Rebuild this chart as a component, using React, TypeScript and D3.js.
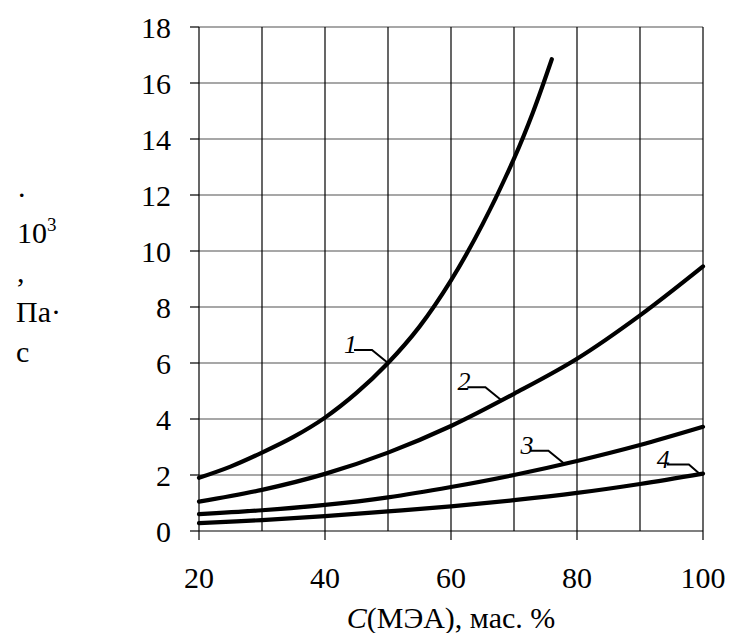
import React from "react";
import * as d3 from "d3";

const conc1 = [20, 25, 30, 35, 40, 45, 50, 55, 60, 65, 70, 73, 76];
const visc1 = [1.9, 2.3, 2.8, 3.36, 4.05, 4.93, 6.0, 7.3, 8.95, 10.95, 13.3, 14.95, 16.85];
const conc = [20, 30, 40, 50, 60, 70, 80, 90, 100];
const visc2 = [1.05, 1.47, 2.04, 2.8, 3.75, 4.9, 6.15, 7.7, 9.45];
const visc3 = [0.6, 0.74, 0.93, 1.2, 1.57, 2.0, 2.5, 3.07, 3.72];
const visc4 = [0.28, 0.39, 0.53, 0.7, 0.88, 1.1, 1.36, 1.68, 2.05];
const xTicks = [20, 40, 60, 80, 100];
const yTicks = [0, 2, 4, 6, 8, 10, 12, 14, 16, 18];
const xGrid = [20, 30, 40, 50, 60, 70, 80, 90, 100];
const curveLabels = ["1", "2", "3", "4"];
// concentration at which each label's leader meets its curve
const labelAt = [50, 68, 78, 99.5];
const yLabelLines = [".", "10", ",", "Па·", "с"];

const W = 731;
const H = 633;
const L = 199, R = 703, T = 27, B = 531;
const FONT = '"Times New Roman", "Liberation Serif", Tinos, "DejaVu Serif", serif';

export default function App() {
  const x = d3.scaleLinear().domain([20, 100]).range([L, R]);
  const y = d3.scaleLinear().domain([0, 18]).range([B, T]);
  const line = d3
    .line<[number, number]>()
    .x((d) => x(d[0]))
    .y((d) => y(d[1]))
    .curve(d3.curveCatmullRom.alpha(0.5));

  const series: [number, number][][] = [
    conc1.map((c, i) => [c, visc1[i]]),
    conc.map((c, i) => [c, visc2[i]]),
    conc.map((c, i) => [c, visc3[i]]),
    conc.map((c, i) => [c, visc4[i]]),
  ];

  const interp = (s: [number, number][], c: number) => {
    for (let i = 0; i < s.length - 1; i++) {
      if (c >= s[i][0] && c <= s[i + 1][0]) {
        const t = (c - s[i][0]) / (s[i + 1][0] - s[i][0]);
        return s[i][1] + t * (s[i + 1][1] - s[i][1]);
      }
    }
    return s[s.length - 1][1];
  };

  const leaders = series.map((s, i) => {
    const cx = x(labelAt[i]);
    const cy = y(interp(s, labelAt[i]));
    const dx = i === 3 ? 11 : 16;
    const dy = i === 3 ? 9.5 : 13;
    const hl = i === 3 ? 22 : 18;
    const p1 = [cx - dx, cy - dy];
    const p0 = [p1[0] - hl, p1[1]];
    return { cx, cy, p0, p1 };
  });

  const txt = { fontFamily: FONT, fontSize: 30 } as React.CSSProperties;

  return (
    <svg width={W} height={H} style={{ position: "absolute", left: 0, top: 0, background: "#fff" }}>
      <rect width={W} height={H} fill="#fff" />
      {yTicks.map((v) => (
        <line key={"h" + v} x1={L} x2={R} y1={y(v)} y2={y(v)} stroke={v === 0 ? "#000" : "#8a8a8a"} strokeWidth={v === 0 ? 1.2 : 1.6} />
      ))}
      {xGrid.map((v) => (
        <line key={"v" + v} x1={x(v)} x2={x(v)} y1={T} y2={B} stroke="#000" strokeWidth={1.2} />
      ))}
      {yTicks.map((v) => (
        <g key={"yt" + v}>
          <line x1={L - 9} x2={L} y1={y(v)} y2={y(v)} stroke="#000" strokeWidth={1.2} />
          <text x={171} y={y(v) + 10.5} textAnchor="end" style={txt}>
            {v}
          </text>
        </g>
      ))}
      {xTicks.map((v) => (
        <g key={"xt" + v}>
          <line x1={x(v)} x2={x(v)} y1={B} y2={B + 9} stroke="#000" strokeWidth={1.2} />
          <text x={x(v)} y={588} textAnchor="middle" style={txt}>
            {v}
          </text>
        </g>
      ))}
      {series.map((s, i) => (
        <path key={"c" + i} d={line(s) || ""} fill="none" stroke="#000" strokeWidth={4.2} strokeLinecap="round" />
      ))}
      {leaders.map((l, i) => (
        <g key={"l" + i}>
          <polyline
            points={`${l.p0[0]},${l.p0[1]} ${l.p1[0]},${l.p1[1]} ${l.cx},${l.cy}`}
            fill="none"
            stroke="#000"
            strokeWidth={2}
          />
          <text
            x={l.p0[0] + 3}
            y={l.p0[1] + 3}
            textAnchor="end"
            style={{ fontFamily: FONT, fontSize: 26, fontStyle: "italic" }}
          >
            {curveLabels[i]}
          </text>
        </g>
      ))}
      <text x={18} y={197} style={txt}>{yLabelLines[0]}</text>
      <text x={17} y={243} style={txt}>
        {yLabelLines[1]}
        <tspan fontSize={19} dy={-12}>3</tspan>
      </text>
      <text x={17} y={282} style={txt}>{yLabelLines[2]}</text>
      <text x={16} y={322} style={txt}>{yLabelLines[3]}</text>
      <text x={16} y={362} style={txt}>{yLabelLines[4]}</text>
      <text x={(L + R) / 2} y={628} textAnchor="middle" style={txt}>
        <tspan fontStyle="italic">C</tspan>(МЭА), мас. %
      </text>
    </svg>
  );
}
